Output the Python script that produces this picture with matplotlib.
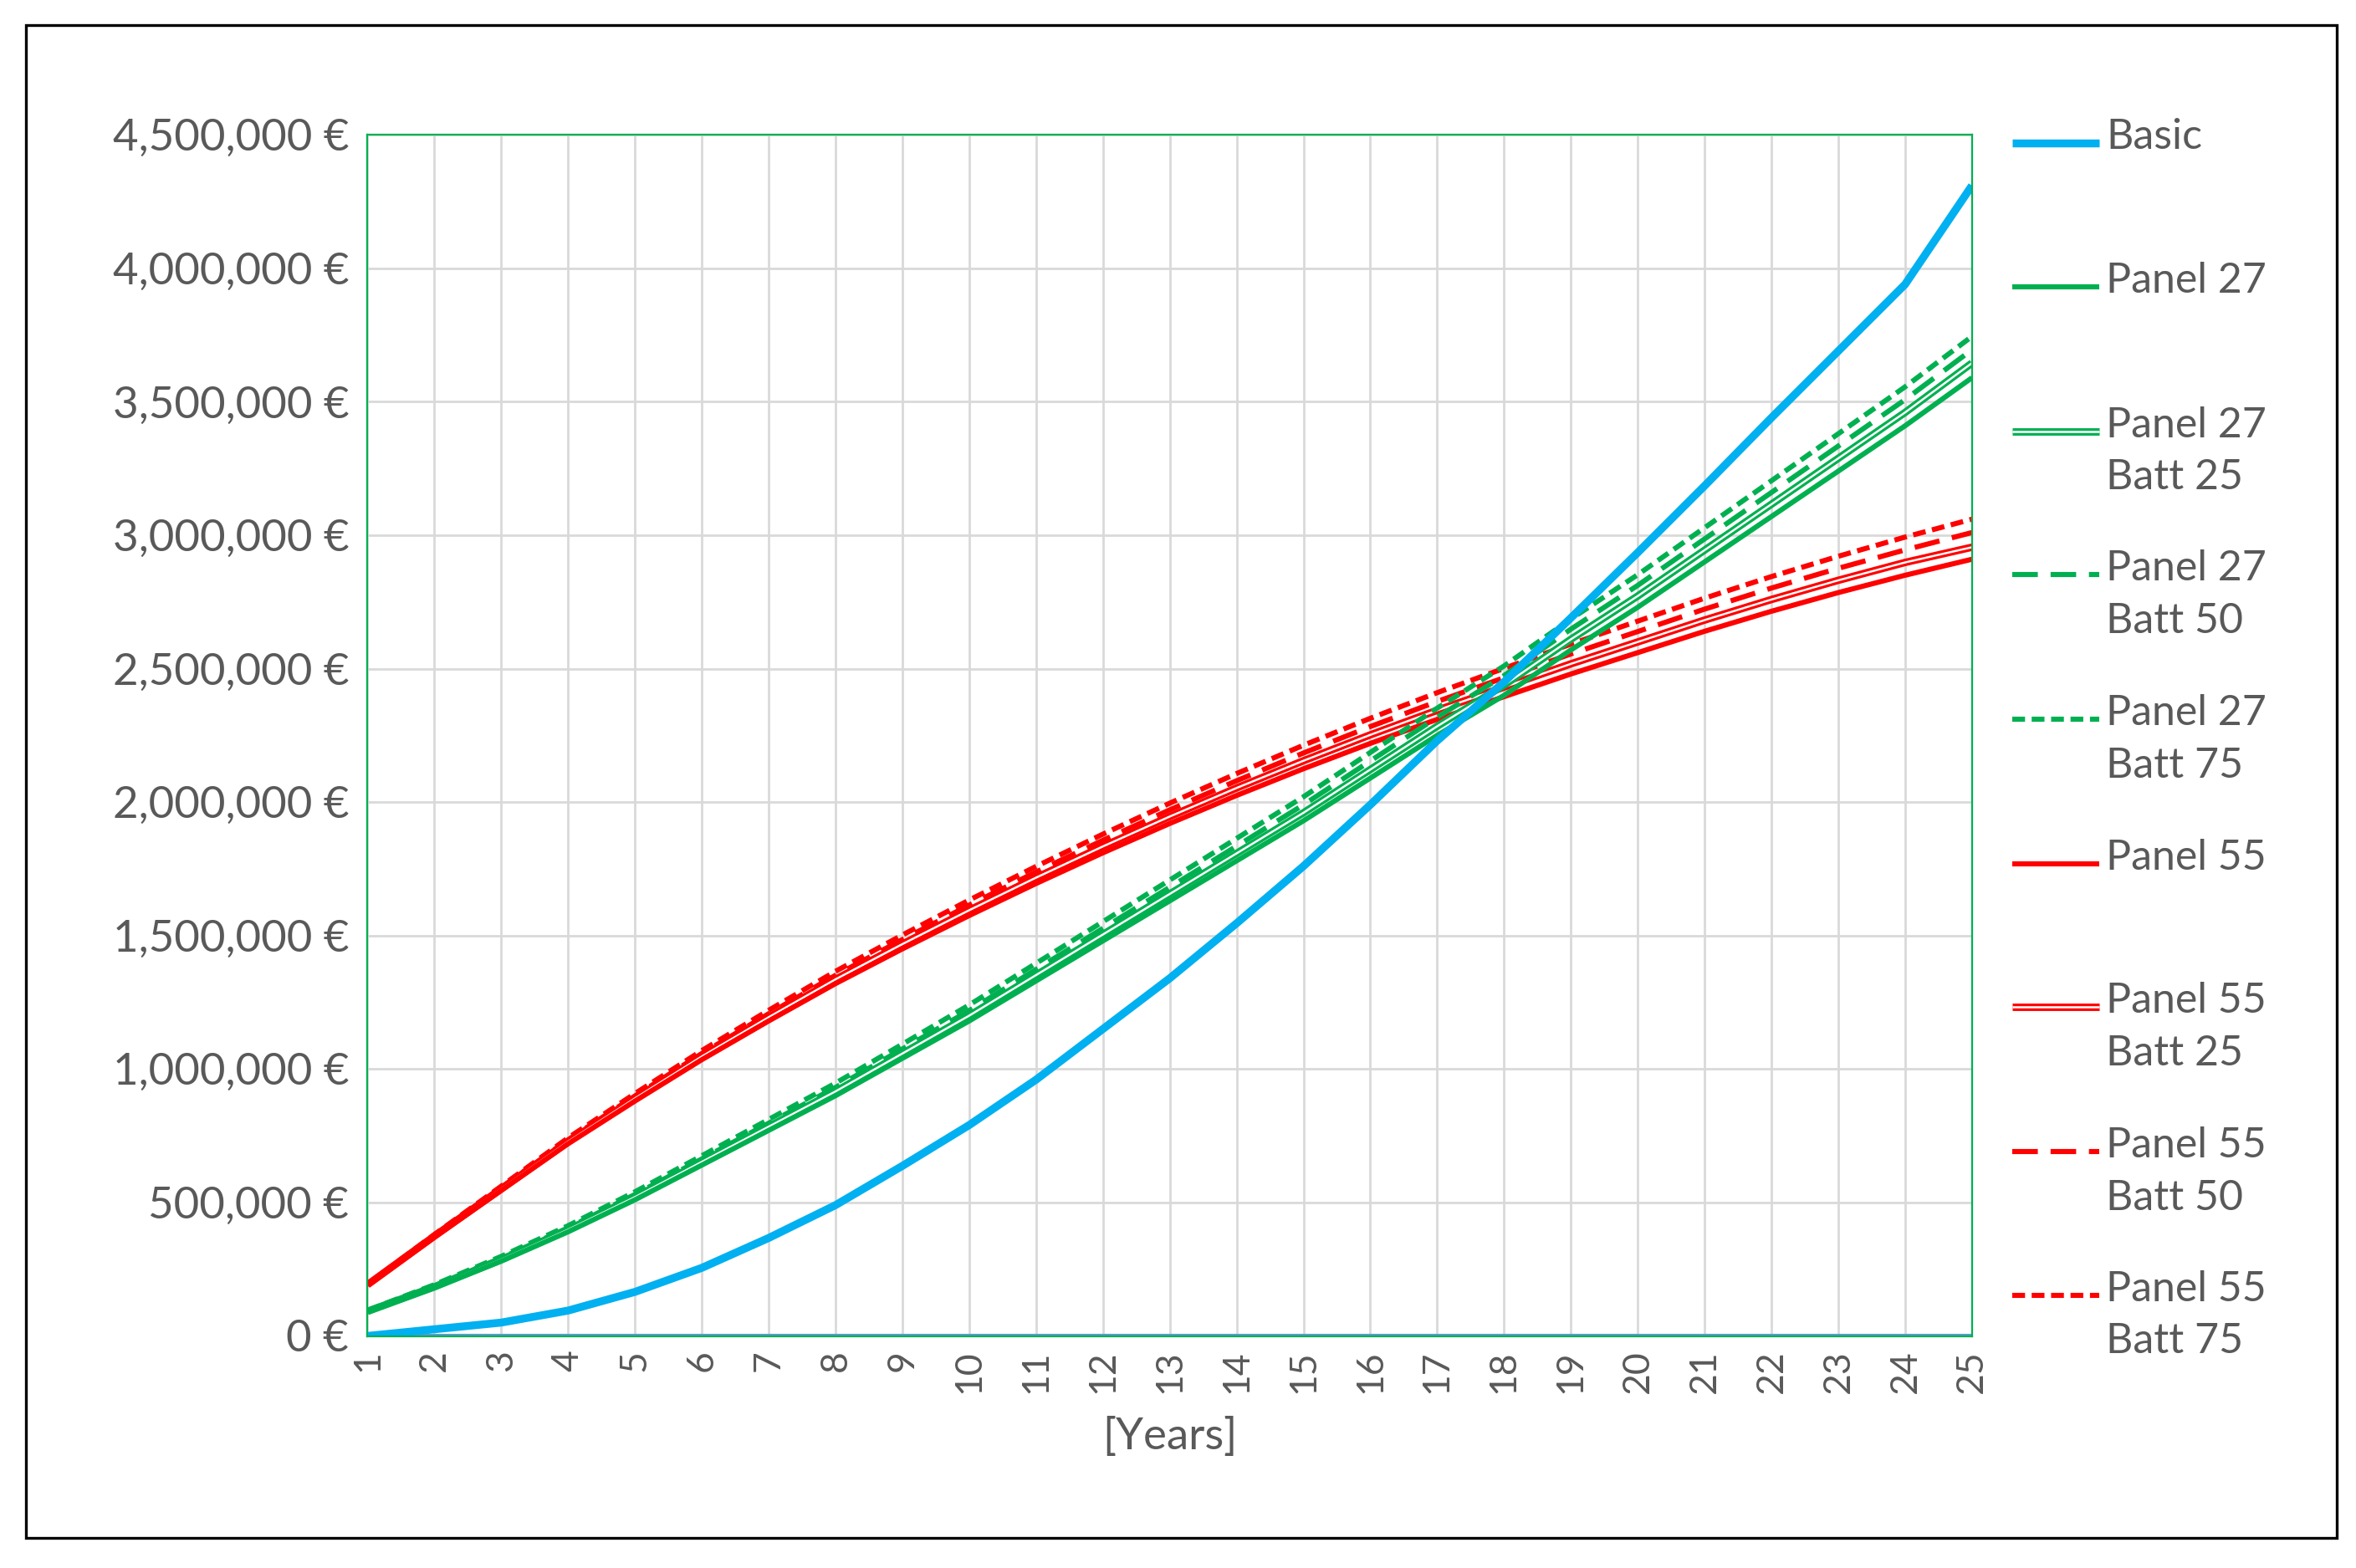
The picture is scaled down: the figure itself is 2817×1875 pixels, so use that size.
import matplotlib
matplotlib.use("Agg")
import matplotlib.pyplot as plt
import matplotlib.patheffects as pe
from matplotlib.lines import Line2D
from matplotlib.patches import Rectangle
from matplotlib.ticker import FuncFormatter

plt.rcParams['font.family'] = ['Lato', 'DejaVu Sans']

years = list(range(1, 26))
basic = [0, 25e3, 50e3, 95e3, 165e3, 255e3, 367e3, 490e3, 637e3, 790e3, 960e3, 1150e3, 1340e3,
         1546e3, 1760e3, 1990e3, 2230e3, 2450e3, 2690e3, 2935e3, 3185e3, 3440e3, 3690e3, 3940e3, 4310e3]
p27 = [90e3, 180e3, 280e3, 390e3, 510e3, 640e3, 770e3, 900e3, 1040e3, 1180e3, 1330e3, 1480e3, 1630e3,
       1780e3, 1930e3, 2090e3, 2250e3, 2400e3, 2570e3, 2730e3, 2900e3, 3070e3, 3240e3, 3410e3, 3590e3]
p27_b25 = [92e3, 184e3, 286e3, 398e3, 520e3, 652e3, 784e3, 916e3, 1058e3, 1200e3, 1352e3, 1504e3, 1656e3,
           1808e3, 1960e3, 2122e3, 2284e3, 2438e3, 2610e3, 2772e3, 2944e3, 3116e3, 3288e3, 3460e3, 3645e3]
p27_b50 = [94e3, 188e3, 292e3, 405e3, 530e3, 663e3, 797e3, 931e3, 1075e3, 1219e3, 1373e3, 1527e3, 1681e3,
           1835e3, 1990e3, 2154e3, 2318e3, 2474e3, 2648e3, 2812e3, 2986e3, 3160e3, 3334e3, 3508e3, 3695e3]
p27_b75 = [96e3, 192e3, 298e3, 413e3, 540e3, 675e3, 811e3, 947e3, 1093e3, 1240e3, 1396e3, 1552e3, 1708e3,
           1864e3, 2020e3, 2186e3, 2352e3, 2510e3, 2686e3, 2852e3, 3028e3, 3204e3, 3380e3, 3556e3, 3745e3]
p55 = [190e3, 370e3, 545e3, 720e3, 880e3, 1035e3, 1180e3, 1320e3, 1450e3, 1575e3, 1695e3, 1810e3, 1920e3,
       2025e3, 2125e3, 2220e3, 2310e3, 2395e3, 2480e3, 2560e3, 2640e3, 2715e3, 2785e3, 2850e3, 2910e3]
p55_b25 = [192e3, 374e3, 551e3, 728e3, 890e3, 1047e3, 1194e3, 1336e3, 1468e3, 1595e3, 1717e3, 1834e3, 1946e3,
           2053e3, 2155e3, 2252e3, 2344e3, 2431e3, 2518e3, 2600e3, 2682e3, 2759e3, 2831e3, 2898e3, 2955e3]
p55_b50 = [193e3, 377e3, 556e3, 735e3, 899e3, 1058e3, 1207e3, 1351e3, 1485e3, 1614e3, 1738e3, 1857e3, 1971e3,
           2080e3, 2184e3, 2283e3, 2377e3, 2466e3, 2555e3, 2639e3, 2723e3, 2802e3, 2876e3, 2945e3, 3010e3]
p55_b75 = [195e3, 380e3, 561e3, 742e3, 908e3, 1069e3, 1220e3, 1366e3, 1502e3, 1633e3, 1759e3, 1880e3, 1996e3,
           2107e3, 2213e3, 2314e3, 2410e3, 2501e3, 2592e3, 2678e3, 2764e3, 2845e3, 2921e3, 2993e3, 3060e3]

BLUE, GREEN, RED = "#00B0F0", "#00B050", "#FF0000"


def double(color):
    return dict(color="white", lw=0.9,
                path_effects=[pe.Stroke(linewidth=3.2, foreground=color), pe.Normal()])


series = [
    ("Basic", basic, dict(color=BLUE, lw=3.4)),
    ("Panel 27", p27, dict(color=GREEN, lw=2.2)),
    ("Panel 27\nBatt 25", p27_b25, double(GREEN)),
    ("Panel 27\nBatt 50", p27_b50, dict(color=GREEN, lw=2.2, dashes=(5, 2.5))),
    ("Panel 27\nBatt 75", p27_b75, dict(color=GREEN, lw=2.2, dashes=(2.5, 1.3))),
    ("Panel 55", p55, dict(color=RED, lw=2.2)),
    ("Panel 55\nBatt 25", p55_b25, double(RED)),
    ("Panel 55\nBatt 50", p55_b50, dict(color=RED, lw=2.2, dashes=(5, 2.5))),
    ("Panel 55\nBatt 75", p55_b75, dict(color=RED, lw=2.2, dashes=(2.5, 1.3))),
]

fig = plt.figure(figsize=(14.085, 9.375), dpi=200)
ax = fig.add_axes([0.156, 0.148, 0.681, 0.766])

for label, vals, st in series[::-1]:
    ax.plot(years, vals, solid_capstyle="butt", **st)

ax.set_xlim(1, 25)
ax.set_ylim(0, 4.5e6)
ax.set_xticks(years)
ax.set_yticks([i * 5e5 for i in range(10)])
ax.yaxis.set_major_formatter(FuncFormatter(lambda v, p: f"{v:,.0f} €"))
ax.tick_params(axis="x", rotation=90, labelsize=16, colors="#595959", length=0, pad=6)
ax.tick_params(axis="y", labelsize=19, colors="#595959", length=0, pad=8)
ax.grid(True, color="#D9D9D9", lw=1)
ax.set_axisbelow(True)
for s in ax.spines.values():
    s.set_color(GREEN)
    s.set_linewidth(0.8)
ax.axhline(0, color="#5B9BD5", lw=2.2, zorder=1)
ax.set_xlabel("[Years]", fontsize=19, color="#595959", labelpad=10)

# legend drawn by hand to match the layout (handle next to the first text line)
ys = [95, 190, 286, 381, 477, 573, 668, 764, 859]
for (label, vals, st), yp in zip(series, ys):
    y = 1 - yp / 1040
    fig.add_artist(Line2D([0.854, 0.891], [y, y], transform=fig.transFigure,
                          solid_capstyle="butt", **st))
    fig.text(0.894, y, label, fontsize=18, color="#595959", va="top",
             ha="left", linespacing=1.45,
             transform=fig.transFigure).set_y(y + 0.016)

fig.add_artist(Rectangle((0.011, 0.019), 0.981, 0.965, transform=fig.transFigure,
                         fill=False, edgecolor="black", lw=1.2))

fig.savefig("out.png", dpi=200)
